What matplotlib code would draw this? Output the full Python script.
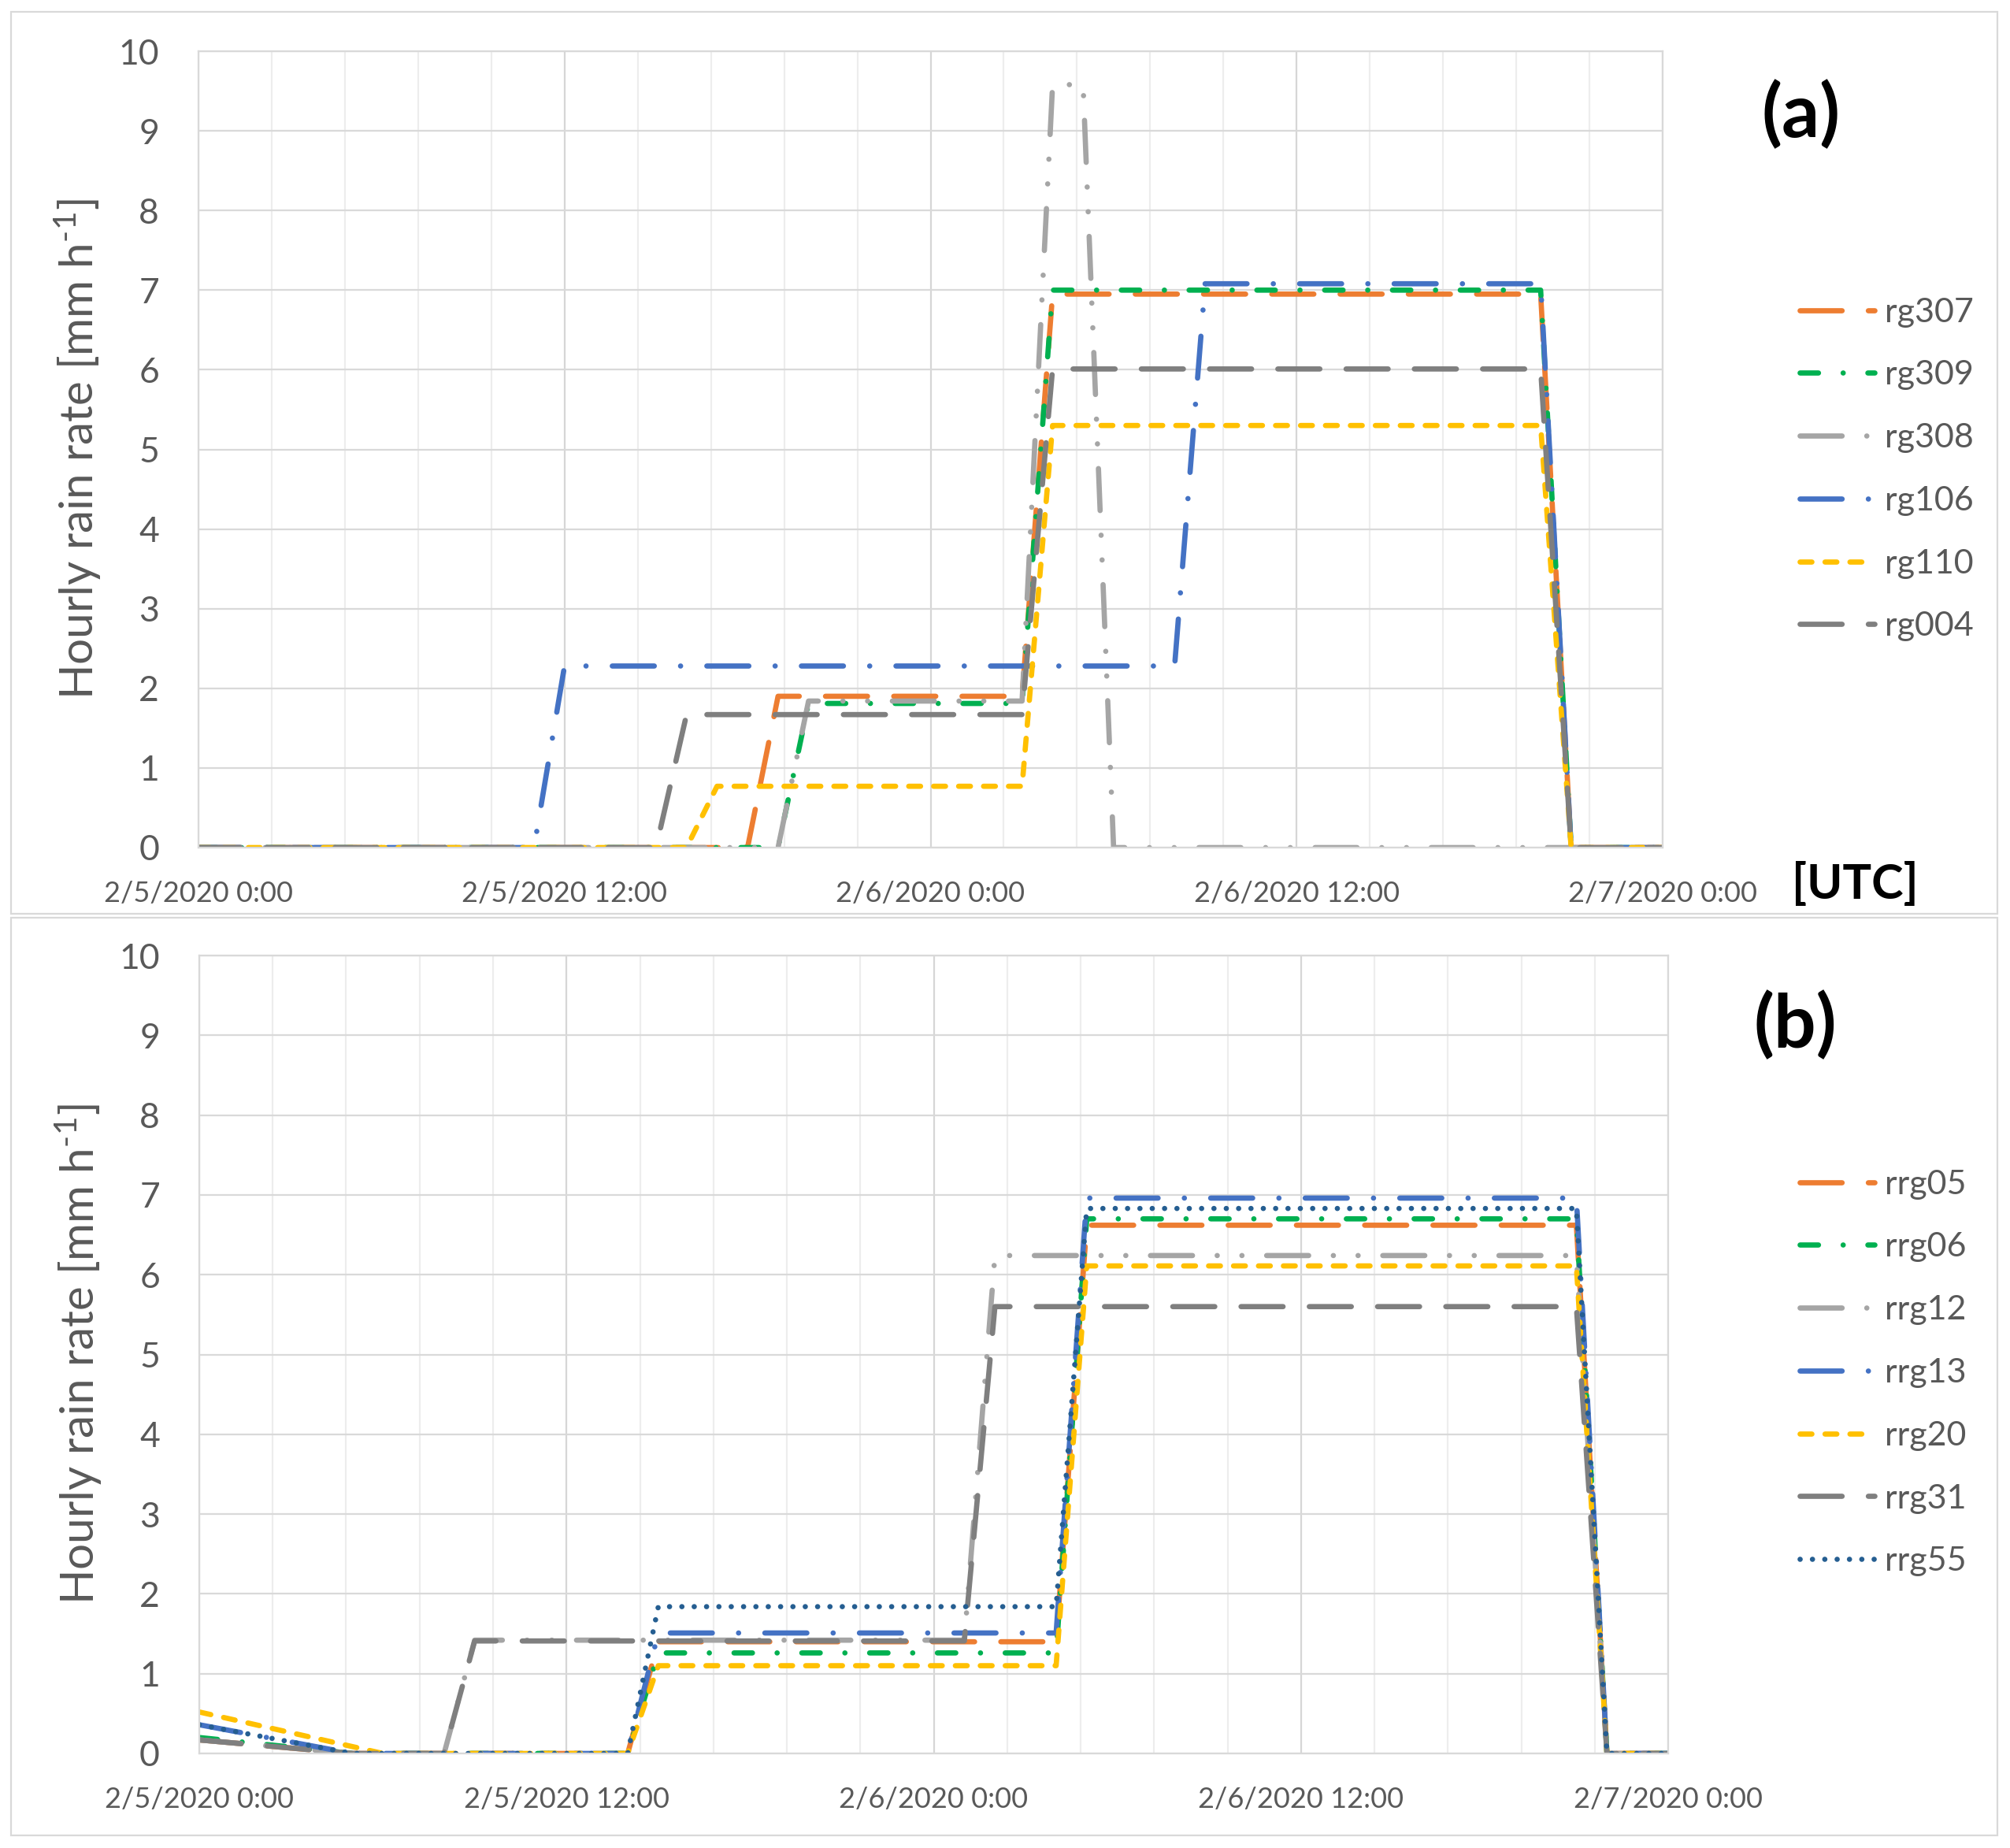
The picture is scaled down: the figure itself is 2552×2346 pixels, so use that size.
import matplotlib.pyplot as plt
from matplotlib.patches import Rectangle
from matplotlib.ticker import MultipleLocator, FixedLocator

plt.rcParams['font.family'] = ['Lato', 'DejaVu Sans']
plt.rcParams['mathtext.fontset'] = 'custom'
plt.rcParams['mathtext.rm'] = 'Lato'
plt.rcParams['mathtext.default'] = 'regular'

# x axis: hours since 2/5/2020 0:00 UTC
tick_hours = [0, 12, 24, 36, 48]
tick_labels = ['2/5/2020 0:00', '2/5/2020 12:00', '2/6/2020 0:00',
               '2/6/2020 12:00', '2/7/2020 0:00']

# panel (a) - rain gauges (time of each vertex, hourly rain rate)
rg307_t = [0, 18, 19, 27, 28, 44, 45, 48]
rg307 = [0, 0, 1.9, 1.9, 6.95, 6.95, 0, 0]
rg309_t = [0, 19, 20, 27, 28, 44, 45, 48]
rg309 = [0, 0, 1.81, 1.81, 7.0, 7.0, 0, 0]
rg308_t = [0, 19, 20, 27, 28, 29, 30, 48]
rg308 = [0, 0, 1.84, 1.84, 9.58, 9.58, 0, 0]
rg106_t = [0, 11, 12, 32, 33, 44, 45, 48]
rg106 = [0, 0, 2.28, 2.28, 7.08, 7.08, 0, 0]
rg110_t = [0, 16, 17, 27, 28, 44, 45, 48]
rg110 = [0, 0, 0.77, 0.77, 5.3, 5.3, 0, 0]
rg004_t = [0, 15, 16, 27, 28, 44, 45, 48]
rg004 = [0, 0, 1.67, 1.67, 6.01, 6.01, 0, 0]

# panel (b)
rrg05_t = [0, 5, 14, 15, 28, 29, 45, 46, 48]
rrg05 = [0.17, 0, 0, 1.40, 1.40, 6.62, 6.62, 0, 0]
rrg06_t = [0, 5, 14, 15, 28, 29, 45, 46, 48]
rrg06 = [0.20, 0, 0, 1.26, 1.26, 6.70, 6.70, 0, 0]
rrg12_t = [0, 5, 8, 9, 25, 26, 45, 46, 48]
rrg12 = [0.17, 0, 0, 1.42, 1.42, 6.24, 6.24, 0, 0]
rrg13_t = [0, 5, 14, 15, 28, 29, 45, 46, 48]
rrg13 = [0.36, 0, 0, 1.51, 1.51, 6.96, 6.96, 0, 0]
rrg20_t = [0, 6, 14, 15, 28, 29, 45, 46, 48]
rrg20 = [0.52, 0, 0, 1.10, 1.10, 6.11, 6.11, 0, 0]
rrg31_t = [0, 5, 8, 9, 25, 26, 45, 46, 48]
rrg31 = [0.17, 0, 0, 1.41, 1.41, 5.60, 5.60, 0, 0]
rrg55_t = [0, 5, 14, 15, 28, 29, 45, 46, 48]
rrg55 = [0.36, 0, 0, 1.84, 1.84, 6.83, 6.83, 0, 0]

# colours and dash styles (office palette)
ORANGE, GREEN, LGREY, BLUE = '#ED7D31', '#00B050', '#A5A5A5', '#4472C4'
YELLOW, DGREY, DBLUE = '#FFC000', '#7F7F7F', '#255E91'
long_dash = (0, (8, 5))
dash_dot_green = (0, (3.5, 4.7, 0.01, 4.7))
long_dash_dot = (0, (8, 5, 0.01, 5))
long_dash_dot_dot = (0, (8, 4.7, 0.01, 4.7, 0.01, 4.7))
short_dash = (0, (2.25, 2.5))
round_dot = (0, (0.01, 2.34))

series_a = [
    ('rg307', rg307_t, rg307, ORANGE, long_dash),
    ('rg309', rg309_t, rg309, GREEN, dash_dot_green),
    ('rg308', rg308_t, rg308, LGREY, long_dash_dot_dot),
    ('rg106', rg106_t, rg106, BLUE, long_dash_dot),
    ('rg110', rg110_t, rg110, YELLOW, short_dash),
    ('rg004', rg004_t, rg004, DGREY, long_dash),
]
series_b = [
    ('rrg05', rrg05_t, rrg05, ORANGE, long_dash),
    ('rrg06', rrg06_t, rrg06, GREEN, dash_dot_green),
    ('rrg12', rrg12_t, rrg12, LGREY, long_dash_dot_dot),
    ('rrg13', rrg13_t, rrg13, BLUE, long_dash_dot),
    ('rrg20', rrg20_t, rrg20, YELLOW, short_dash),
    ('rrg31', rrg31_t, rrg31, DGREY, long_dash),
    ('rrg55', rrg55_t, rrg55, DBLUE, round_dot),
]

W, H = 2552, 2346
fig = plt.figure(figsize=(W / 200, H / 200), dpi=200)

# chart-area borders
for y0, y1 in [(15, 1160), (1165, 2330)]:
    fig.add_artist(Rectangle((14 / W, 1 - y1 / H), (2536 - 14) / W, (y1 - y0) / H,
                             transform=fig.transFigure, fill=False,
                             edgecolor='#D9D9D9', lw=0.8))


def draw_panel(rect, series, tag, tag_xy, legend_y, utc=False):
    ax = fig.add_axes(rect)
    for name, t, v, col, ls in series:
        ax.plot(t, v, color=col, lw=2.4, linestyle=ls, label=name,
                dash_capstyle='round', solid_capstyle='round')
    ax.set_xlim(0, 48)
    ax.set_ylim(0, 10)
    ax.xaxis.set_major_locator(FixedLocator(tick_hours))
    ax.set_xticklabels(tick_labels)
    ax.xaxis.set_minor_locator(MultipleLocator(2.4))
    ax.yaxis.set_major_locator(MultipleLocator(1))
    ax.grid(which='major', axis='x', color='#D6D6D6', lw=0.8, zorder=0)
    ax.grid(which='minor', axis='x', color='#EDEDED', lw=0.8, zorder=0)
    ax.grid(which='major', axis='y', color='#D9D9D9', lw=0.8, zorder=0)
    ax.set_axisbelow(True)
    for s in ax.spines.values():
        s.set_color('#D9D9D9')
        s.set_linewidth(0.8)
    ax.tick_params(axis='both', which='both', length=0, colors='#595959')
    ax.tick_params(axis='y', labelsize=16, pad=18)
    ax.tick_params(axis='x', labelsize=13, pad=15)
    ax.set_ylabel(r'Hourly rain rate [mm h$^{\text{-}1}$]', fontsize=21,
                  color='#595959')
    ax.yaxis.set_label_coords(-0.065, 0.5)
    fig.text(tag_xy[0], tag_xy[1], tag, fontsize=34, fontweight='bold',
             ha='center', va='center')
    if utc:
        fig.text(2355 / W, 1 - 1123 / H, '[UTC]', fontsize=22, fontweight='bold',
                 ha='center', va='center')
    ax.legend(loc='center left', bbox_to_anchor=(2285 / W, legend_y),
              bbox_transform=fig.transFigure, frameon=False, fontsize=15.5,
              handlelength=2.2, handletextpad=0.3, labelspacing=0.97,
              borderpad=0, borderaxespad=0, labelcolor='#595959')
    return ax


draw_panel([252 / W, 1 - 1076 / H, (2111 - 252) / W, (1076 - 65) / H],
           series_a, '(a)', (2287 / W, 1 - 146 / H), 1 - 596 / H, utc=True)
draw_panel([253 / W, 1 - 2226 / H, (2118 - 253) / W, (2226 - 1213) / H],
           series_b, '(b)', (2279 / W, 1 - 1302 / H), 1 - 1743 / H)

fig.savefig('out.png', dpi=200)
